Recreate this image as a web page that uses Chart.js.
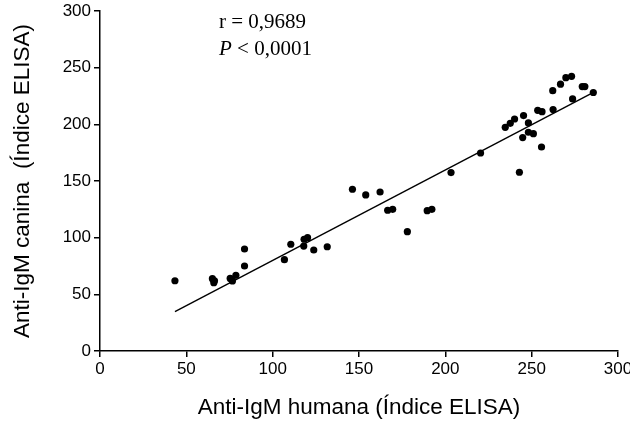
<!DOCTYPE html>
<html>
<head>
<meta charset="utf-8">
<script src="https://cdn.jsdelivr.net/npm/chart.js@4/dist/chart.umd.min.js"></script>
<style>
  html, body { margin: 0; padding: 0; background: #fff; }
  #wrap { width: 630px; height: 425px; position: relative; }
</style>
</head>
<body>
<div id="wrap"><canvas id="scatterChart"></canvas></div>
<script>
// =========================
// Data
// =========================
const humanIgM = [
  43.4, 65.1, 66.3, 65.9, 75.4, 76.7, 78.7, 83.7, 83.7, 106.8,
  110.5, 118, 118.2, 120.2, 123.8, 131.6, 146.2, 153.9, 162.2, 166.6,
  169.5, 178, 189.5, 192.2, 203.3, 220.4, 242.9, 234.7, 237.6, 240.1,
  245.3, 248.1, 244.8, 248.1, 251, 255.7, 253.5, 256, 262.4, 262.2,
  266.7, 269.8, 273.1, 273.7, 279.3, 280.8, 285.7
];
const canineIgM = [
  62, 63.8, 62, 60.3, 64, 61.8, 66.8, 75, 90, 80.6,
  94.2, 92.6, 98.6, 100, 89.1, 92, 142.7, 137.7, 140.3, 124.2,
  125, 105.3, 123.8, 125, 157.4, 174.7, 157.7, 197.4, 200.9, 204.7,
  207.7, 201.2, 188.3, 193, 191.8, 180, 212.4, 211.2, 213, 229.7,
  235.4, 241.2, 242.4, 222.4, 233.3, 233.3, 228.1
];

// regression line end points
const fitX = [43.4, 285.5];
const fitY = [34.7, 228];

const xTicks = [0, 50, 100, 150, 200, 250, 300];
const yTicks = [0, 50, 100, 150, 200, 250, 300];

const statLines = ["r = 0,9689", "< 0,0001"];

// =========================
// Text annotation plugin
// =========================
const statsText = {
  id: "statsText",
  afterDraw(chart) {
    const ctx = chart.ctx;
    const area = chart.chartArea;
    const x0 = area.left + 119;
    ctx.save();
    ctx.fillStyle = "#000";
    ctx.textBaseline = "alphabetic";
    ctx.textAlign = "left";
    ctx.font = "21px 'Liberation Serif', 'Times New Roman', serif";
    ctx.fillText(statLines[0], x0, 28);
    ctx.font = "italic 21px 'Liberation Serif', 'Times New Roman', serif";
    ctx.fillText("P", x0, 55);
    const pw = ctx.measureText("P ").width;
    ctx.font = "21px 'Liberation Serif', 'Times New Roman', serif";
    ctx.fillText(statLines[1], x0 + pw, 55);
    ctx.restore();
  },
};

// =========================
// Scatter chart
// =========================
function renderScatter() {
  const ctx = document.getElementById("scatterChart").getContext("2d");

  const tickFont = { family: "'Liberation Sans', Arial, sans-serif", size: 17 };
  const titleFont = { family: "'Liberation Sans', Arial, sans-serif", size: 22.5 };

  new Chart(ctx, {
    type: "scatter",
    data: {
      datasets: [
        {
          label: "Amostras",
          data: humanIgM.map((x, i) => ({ x: x, y: canineIgM[i] })),
          backgroundColor: "#000",
          borderWidth: 0,
          pointRadius: 3.6,
          pointHoverRadius: 3.6,
        },
        {
          type: "line",
          label: "Regressão",
          data: fitX.map((x, i) => ({ x: x, y: fitY[i] })),
          borderColor: "#000",
          borderWidth: 1.4,
          pointRadius: 0,
          fill: false,
        },
      ],
    },
    options: {
      responsive: true,
      maintainAspectRatio: false,
      animation: false,
      layout: { padding: { top: 11, right: 12, left: 0, bottom: 0 } },
      plugins: {
        legend: { display: false },
        tooltip: { enabled: false },
      },
      scales: {
        x: {
          type: "linear",
          min: 0,
          max: 300,
          afterBuildTicks: (s) => { s.ticks = xTicks.map((v) => ({ value: v })); },
          afterFit: (s) => {
            s.height = 74;
            s.paddingLeft = 0;
            s.paddingRight = 0;
          },
          ticks: { color: "#000", font: tickFont, padding: 2, maxRotation: 0 },
          grid: { drawOnChartArea: false, drawTicks: true, tickLength: 6, color: "#000", lineWidth: 1.5 },
          border: { display: true, color: "#000", width: 1.5 },
          title: {
            display: true,
            text: "Anti-IgM humana (Índice ELISA)",
            color: "#000",
            font: titleFont,
            padding: { top: 0, bottom: 4 },
          },
        },
        y: {
          type: "linear",
          min: 0,
          max: 300,
          afterBuildTicks: (s) => { s.ticks = yTicks.map((v) => ({ value: v })); },
          afterFit: (s) => {
            s.width = 100;
            s.paddingTop = 0;
            s.paddingBottom = 0;
          },
          ticks: { color: "#000", font: tickFont, padding: 3 },
          grid: { drawOnChartArea: false, drawTicks: true, tickLength: 6, color: "#000", lineWidth: 1.5 },
          border: { display: true, color: "#000", width: 1.5 },
          title: {
            display: true,
            text: "Anti-IgM canina  (Índice ELISA)",
            color: "#000",
            font: titleFont,
            padding: { top: 9, bottom: 0 },
          },
        },
      },
    },
    plugins: [statsText],
  });
}

renderScatter();
</script>
</body>
</html>
